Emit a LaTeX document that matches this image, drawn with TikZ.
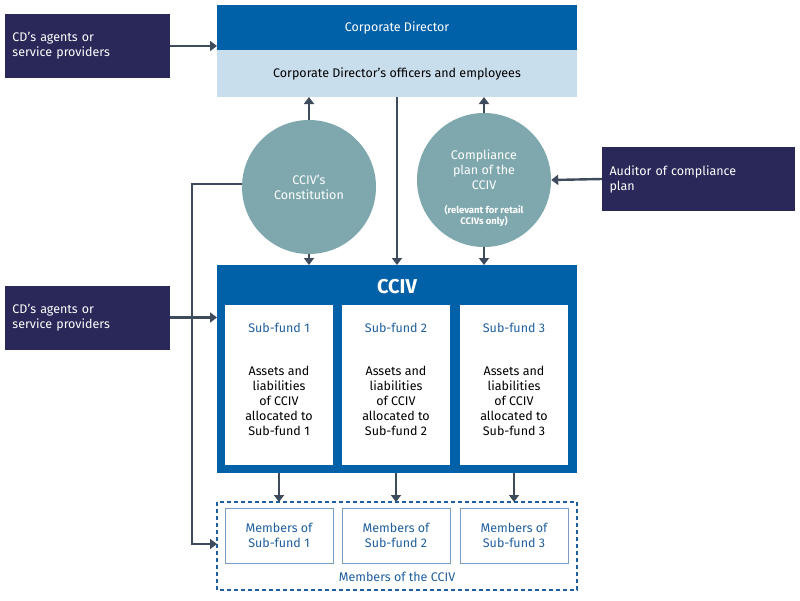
\documentclass[tikz,border=0pt]{standalone}
\usepackage{fontspec}
\setmainfont{Fira Sans}
\usetikzlibrary{arrows.meta}
\definecolor{dblue}{HTML}{0060A8}
\definecolor{lblue}{HTML}{C9DEEC}
\definecolor{navy}{HTML}{2A2859}
\definecolor{teal}{HTML}{7FA8AE}
\definecolor{arr}{HTML}{3D4B5C}
\definecolor{tblue}{HTML}{1F5FA0}
\tikzset{
 x=1pt,y=-1pt,
 every node/.style={font=\fontsize{12.5}{15}\selectfont, align=center, inner sep=0},
 navybox/.style={fill=navy, text=white, align=left, minimum width=165, minimum height=64, text width=150},
 circ/.style={circle, fill=teal, text=white, minimum size=134},
 sub/.style={fill=white, minimum width=108, minimum height=160},
 mem/.style={draw=tblue!60, line width=0.8, fill=white, text=tblue, minimum width=108, minimum height=55},
 con/.style={draw=arr, line width=2.4, -{Triangle[length=7,width=10]}}
}
\begin{document}
\begin{tikzpicture}
\useasboundingbox (0,0) rectangle (800,600);
\fill[white] (0,0) rectangle (800,600);
% top
\node[fill=dblue, text=white, minimum width=360, minimum height=45] (cd) at (397,27.5) {Corporate Director};
\node[fill=lblue, minimum width=360, minimum height=47] (off) at (397,73.5) {Corporate Director’s officers and employees};
\node[navybox] (ag1) at (87.5,46) {CD’s agents or\\service providers};
\node[navybox] (ag2) at (87.5,317.5) {CD’s agents or\\service providers};
\node[navybox, minimum width=193, text width=178] (aud) at (698.5,179) {Auditor of compliance\\plan};
\node[circ] (con) at (309,187) {CCIV’s\\Constitution};
\node[circ] (cp) at (484,180) {};
\node[text=white] at (484,170) {Compliance\\plan of the\\CCIV};
\node[text=white, font=\fontsize{9.5}{11}\selectfont\bfseries] at (484,216) {(relevant for retail\\CCIVs only)};
% CCIV
\node[fill=dblue, minimum width=360, minimum height=208] (cciv) at (397,369) {};
\node[text=white, font=\fontsize{20}{24}\selectfont\bfseries] at (397,287) {CCIV};
\foreach \i/\x in {1/279,2/396,3/514}{
 \node[sub] (s\i) at (\x,385) {};
 \node[text=tblue] at (\x,328) {Sub-fund \i};
 \node at (\x,401) {Assets and\\liabilities\\of CCIV\\allocated to\\Sub-fund \i};
}
% members
\draw[tblue, line width=1.4, dash pattern=on 4pt off 3pt] (217,502) rectangle (577,590);
\coordinate (memL) at (217,544);
\foreach \i/\x in {1/279,2/396,3/514}{
 \node[mem] (m\i) at (\x,535.5) {Members of\\Sub-fund \i};
 \draw[con] (\x,473) -- (\x,502);
}
\node[text=tblue] at (397,577) {Members of the CCIV};
% connectors
\draw[con] (ag1.east) -- (217,46);
\draw[con] (ag2.east) -- (217,317.5);
\draw[con] (aud.west) -- (cp.east);
\draw[con] (con.north) -- (309,97);
\draw[con] (cp.north) -- (484,97);
\draw[con] (con.south) -- (309,265);
\draw[con] (cp.south) -- (484,265);
\draw[con] (397,97) -- (397,265);
\draw[con] (con.west |- 0,184) -- (192,184) -- (192,544) -- (memL);
\end{tikzpicture}
\end{document}
